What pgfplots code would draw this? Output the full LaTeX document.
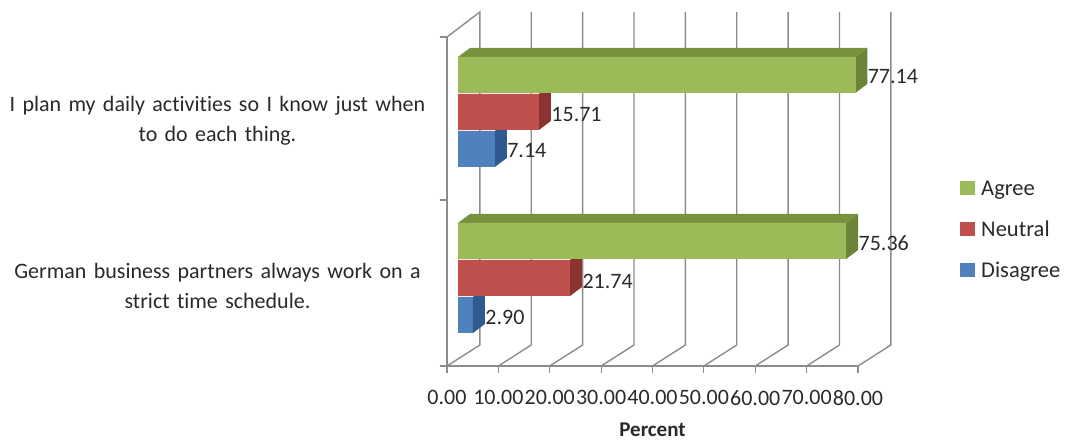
\documentclass[border=0pt]{standalone}
\usepackage{pgfplots}
\usepackage{fontspec}
\setmainfont[Ligatures=NoCommon]{Carlito}
\pgfplotsset{compat=1.18}
\definecolor{gridc}{HTML}{8C8C8C}
\definecolor{txt}{HTML}{2A2A2A}
\definecolor{gf}{HTML}{9BBB59}\definecolor{gs}{HTML}{6A8536}\definecolor{gt}{HTML}{76923C}
\definecolor{rf}{HTML}{C0504D}\definecolor{rs}{HTML}{8C3230}
\definecolor{bf}{HTML}{4F81BD}\definecolor{bs}{HTML}{2F5A8F}
\begin{document}
\begin{tikzpicture}[x=1pt,y=1pt]
\useasboundingbox (0,0) rectangle (1065,441);
\begin{axis}[
  at={(447pt,75pt)},anchor=south west,
  scale only axis,width=411pt,height=329pt,
  xmin=0,xmax=80,ymin=0,ymax=329,clip=false,
  axis x line*=bottom,axis y line*=left,
  axis line style={-,gridc,line width=1.4pt},
  tick align=outside,
  xtick={0,10,...,80},
  major tick length=7pt,minor tick length=7pt,
  x tick style={gridc,line width=1.2pt},
  y tick style={draw=none},
  ytick={80,245},
  minor ytick={0,166,329},
  minor y tick style={draw=gridc,line width=1.2pt},
  yticklabels={{German business partners always work on a\\strict time schedule.},{I plan my daily activities so I know just when\\to do each thing.}},
  yticklabel style={align=center,text width=425pt,font=\fontsize{22}{30}\selectfont,text=txt,xshift=-6.5pt},
  xticklabel style={font=\fontsize{22}{26}\selectfont,text=txt,yshift=-14pt},
  /pgf/number format/.cd,fixed,fixed zerofill,precision=2,assume math mode=true,
  /pgfplots/.cd,
  xlabel={\textbf{Percent}},
  xlabel style={font=\fontsize{21}{25}\selectfont,text=txt,yshift=-14pt,inner sep=0pt},
]
% receding gridlines: front edge to back wall, in percent and rows
\addplot[gridc,line width=1.4pt] coordinates {(0,329)(6.4,354)(6.4,21)(0,0)};
\addplot[gridc,line width=1.4pt] coordinates {(10,0)(16.4,21)(16.4,354)};
\addplot[gridc,line width=1.4pt] coordinates {(20,0)(26.4,21)(26.4,354)};
\addplot[gridc,line width=1.4pt] coordinates {(30,0)(36.4,21)(36.4,354)};
\addplot[gridc,line width=1.4pt] coordinates {(40,0)(46.4,21)(46.4,354)};
\addplot[gridc,line width=1.4pt] coordinates {(50,0)(56.4,21)(56.4,354)};
\addplot[gridc,line width=1.4pt] coordinates {(60,0)(66.4,21)(66.4,354)};
\addplot[gridc,line width=1.4pt] coordinates {(70,0)(76.4,21)(76.4,354)};
\addplot[gridc,line width=1.4pt] coordinates {(80,0)(86.4,21)(86.4,354)};
\end{axis}
\begin{axis}[
  at={(458pt,75pt)},anchor=south west,
  scale only axis,width=412pt,height=329pt,
  xmin=0,xmax=80,ymin=0,ymax=329,clip=false,
  hide axis,
  legend cell align=left,
  reverse legend,
  legend style={at={(1.2185,0.414)},anchor=west,draw=none,fill=none,
    font=\fontsize{22.5}{26}\selectfont,text=txt,row sep=20pt,
    inner sep=0pt,cells={anchor=west}},
  legend image code/.code={\fill[#1] (0,-6.5pt) rectangle (15pt,7.5pt);\path (19pt,0);},
  /pgf/number format/.cd,fixed,fixed zerofill,precision=2,assume math mode=true,
  /pgfplots/.cd,
  every node near coord/.append style={font=\fontsize{22}{26}\selectfont,text=txt,anchor=west,xshift=9pt},
  barlab/.style={xbar,bar width=36pt,draw=none,point meta=x,nodes near coords},
]
% Disagree
\addplot[barlab,bar shift=-37pt,fill=bf,every node near coord/.append style={yshift=-39pt}] coordinates {(2.90,88)(7.14,254)};
\addlegendentry{Disagree}
\addplot[forget plot,fill=bs,draw=none] coordinates {(2.90,33)(2.90,69)(5.23,78)(5.23,42)} --cycle;
\addplot[forget plot,fill=bs,draw=none] coordinates {(7.14,199)(7.14,235)(9.47,244)(9.47,208)} --cycle;
% Neutral
\addplot[forget plot,fill=rs,draw=none] coordinates {(21.74,70)(21.74,106)(24.07,115)(24.07,79)} --cycle;
\addplot[forget plot,fill=rs,draw=none] coordinates {(15.71,236)(15.71,272)(18.04,281)(18.04,245)} --cycle;
\addplot[barlab,bar shift=0pt,fill=rf,every node near coord/.append style={yshift=-3pt}] coordinates {(21.74,88)(15.71,254)};
\addlegendentry{Neutral}
% Agree
\addplot[forget plot,fill=gs,draw=none] coordinates {(75.36,107)(75.36,143)(77.69,152)(77.69,116)} --cycle;
\addplot[forget plot,fill=gs,draw=none] coordinates {(77.14,273)(77.14,309)(79.47,318)(79.47,282)} --cycle;
\addplot[forget plot,fill=gt,draw=none] coordinates {(0,143)(75.36,143)(77.69,152)(2.33,152)} --cycle;
\addplot[forget plot,fill=gt,draw=none] coordinates {(0,309)(77.14,309)(79.47,318)(2.33,318)} --cycle;
\addplot[barlab,bar shift=37pt,fill=gf,every node near coord/.append style={yshift=35pt}] coordinates {(75.36,88)(77.14,254)};
\addlegendentry{Agree}
\end{axis}
\end{tikzpicture}
\end{document}
